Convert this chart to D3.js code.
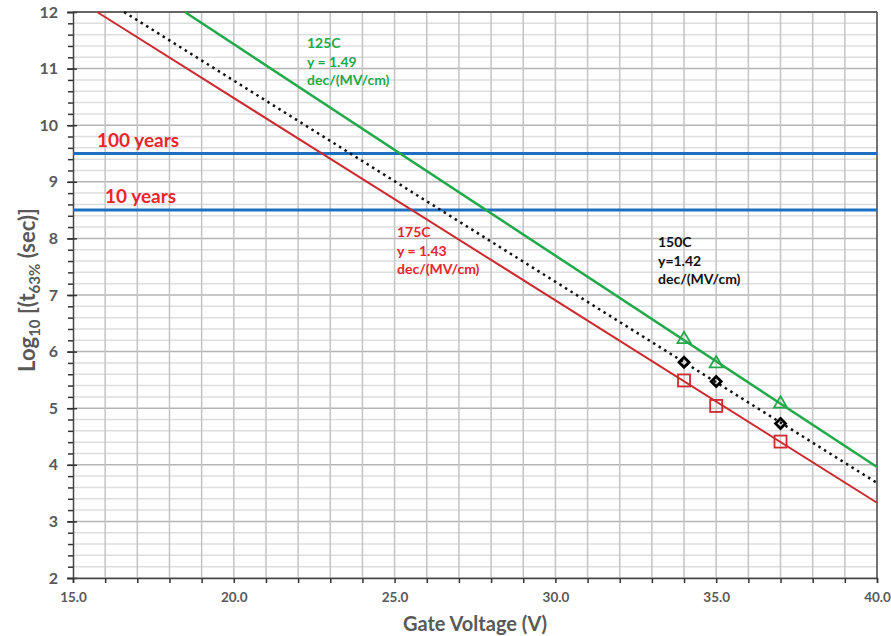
<!DOCTYPE html>
<html>
<head>
<meta charset="utf-8">
<script src="https://cdn.jsdelivr.net/npm/d3@7"></script>
<style>
  body { margin: 0; background: #fff; }
  svg text { font-family: Lato, "Liberation Sans", sans-serif; }
</style>
</head>
<body>
<div id="chart"></div>
<script>
var W = 891;
var H = 636;
var margin = { top: 12, right: 14, bottom: 58, left: 73 };
var plotW = W - margin.left - margin.right;
var plotH = H - margin.top - margin.bottom;

// ---- data ----
var xTickLabels = ['15.0', '20.0', '25.0', '30.0', '35.0', '40.0'];
var yTickLabels = [2, 3, 4, 5, 6, 7, 8, 9, 10, 11, 12];

var markerVoltage = [34, 35, 37];
var t125 = [6.2, 5.77, 5.06];
var t150 = [5.81, 5.47, 4.73];
var t175 = [5.49, 5.04, 4.41];

// fitted lines (visible end points, V / log10 t)
var fit125 = [[18.48, 12], [40, 3.96]];
var fit150 = [[16.59, 12], [40, 3.68]];
var fit175 = [[15.75, 12], [40, 3.33]];

var limitLevels = [9.5, 8.5];
var limitNames = ['100 years', '10 years'];

var green = '#22a94a';
var red = '#cc2a2f';
var blue = '#1f6fc0';
var axisGray = '#595959';

var svg = d3.select('#chart').append('svg').attr('width', W).attr('height', H);
var g = svg.append('g').attr('transform', 'translate(' + margin.left + ',' + margin.top + ')');

var xScale = d3.scaleLinear().domain([15, 40]).range([0, plotW]);
var yScale = d3.scaleLinear().domain([2, 12]).range([plotH, 0]);

/* ===== GRID ===== */
var yMinor = d3.range(2, 12.001, 0.2);
g.selectAll('line.hgrid')
  .data(yMinor)
  .enter().append('line')
  .attr('x1', 0).attr('x2', plotW)
  .attr('y1', function (d) { return yScale(d); })
  .attr('y2', function (d) { return yScale(d); })
  .attr('stroke', function (d) { return Math.abs(d - Math.round(d)) < 0.01 ? '#b4b4b4' : '#dedede'; })
  .attr('stroke-width', 1.5);

g.selectAll('line.vgrid')
  .data(d3.range(16, 40, 1))
  .enter().append('line')
  .attr('y1', 0).attr('y2', plotH)
  .attr('x1', function (d) { return xScale(d); })
  .attr('x2', function (d) { return xScale(d); })
  .attr('stroke', '#c4c4c4')
  .attr('stroke-width', 1.5);

/* ===== AXES ===== */
var yAxisMinor = d3.axisLeft(yScale).tickValues(yMinor).tickSize(5).tickFormat('');
g.append('g').call(yAxisMinor)
  .call(function (a) { a.select('.domain').remove(); })
  .selectAll('line').attr('stroke', '#333').attr('stroke-width', 1.5);

var yAxis = d3.axisLeft(yScale).tickValues(yTickLabels).tickSize(6).tickPadding(9);
var ya = g.append('g').call(yAxis);
ya.select('.domain').attr('stroke', '#444').attr('stroke-width', 1.5);
ya.selectAll('.tick line').attr('stroke', '#333').attr('stroke-width', 1.5).attr('x2', 4).attr('x1', -6);
ya.selectAll('text').attr('fill', axisGray).attr('font-size', 16).attr('font-weight', 'bold');

var xAxis = d3.axisBottom(xScale)
  .tickValues(d3.range(15, 40.001, 1))
  .tickSize(5)
  .tickPadding(9)
  .tickFormat(function (d) { return d % 5 === 0 ? xTickLabels[(d - 15) / 5] : ''; });
var xa = g.append('g').attr('transform', 'translate(0,' + plotH + ')').call(xAxis);
xa.select('.domain').attr('stroke', '#444').attr('stroke-width', 1.5);
xa.selectAll('.tick line').attr('stroke', '#333').attr('stroke-width', 1.5);
xa.selectAll('text').attr('fill', axisGray).attr('font-size', 13.5).attr('font-weight', 'bold');

// top and right frame
g.append('line').attr('x1', 0).attr('x2', plotW).attr('y1', 0).attr('y2', 0)
  .attr('stroke', '#444').attr('stroke-width', 1.5);
g.append('line').attr('x1', plotW).attr('x2', plotW).attr('y1', 0).attr('y2', plotH)
  .attr('stroke', '#444').attr('stroke-width', 1.5);

/* ===== LIMIT LINES ===== */
g.selectAll('line.limit')
  .data(limitLevels)
  .enter().append('line')
  .attr('x1', 0).attr('x2', plotW)
  .attr('y1', function (d) { return yScale(d); })
  .attr('y2', function (d) { return yScale(d); })
  .attr('stroke', blue)
  .attr('stroke-width', 3);

g.selectAll('text.limit')
  .data(limitLevels)
  .enter().append('text')
  .attr('x', function (d, i) { return i === 0 ? 24 : 32; })
  .attr('y', function (d) { return yScale(d) - 7; })
  .attr('fill', '#e8262b')
  .attr('font-size', 19)
  .attr('font-weight', 'bold')
  .text(function (d, i) { return limitNames[i]; });

/* ===== FIT LINES ===== */
var line = d3.line()
  .x(function (d) { return xScale(d[0]); })
  .y(function (d) { return yScale(d[1]); });

g.append('path').datum(fit175).attr('d', line)
  .attr('fill', 'none').attr('stroke', red).attr('stroke-width', 2);
g.append('path').datum(fit125).attr('d', line)
  .attr('fill', 'none').attr('stroke', green).attr('stroke-width', 2.5);
g.append('path').datum(fit150).attr('d', line)
  .attr('fill', 'none').attr('stroke', '#111').attr('stroke-width', 2.5)
  .attr('stroke-dasharray', '2.5,4');

/* ===== MARKERS ===== */
g.selectAll('path.tri')
  .data(markerVoltage)
  .enter().append('path')
  .attr('d', d3.symbol().type(d3.symbolTriangle).size(75))
  .attr('transform', function (d, i) { return 'translate(' + xScale(d) + ',' + (yScale(t125[i]) - 1) + ')'; })
  .attr('fill', 'none').attr('stroke', green).attr('stroke-width', 1.8);

g.selectAll('rect.sq')
  .data(markerVoltage)
  .enter().append('rect')
  .attr('x', function (d) { return xScale(d) - 6; })
  .attr('y', function (d, i) { return yScale(t175[i]) - 6; })
  .attr('width', 12).attr('height', 12)
  .attr('fill', 'none').attr('stroke', red).attr('stroke-width', 1.8);

g.selectAll('path.dia')
  .data(markerVoltage)
  .enter().append('path')
  .attr('d', d3.symbol().type(d3.symbolSquare).size(50))
  .attr('transform', function (d, i) { return 'translate(' + xScale(d) + ',' + yScale(t150[i]) + ') rotate(45)'; })
  .attr('fill', 'none').attr('stroke', '#000').attr('stroke-width', 2.8);

/* ===== ANNOTATIONS ===== */
function note(x, y, lines, color) {
  var t = g.append('text')
    .attr('x', x - margin.left)
    .attr('y', y - margin.top)
    .attr('fill', color)
    .attr('font-size', 14)
    .attr('font-weight', 'bold');
  lines.forEach(function (s, i) {
    t.append('tspan').attr('x', x - margin.left).attr('dy', i === 0 ? 0 : 18.5).text(s);
  });
}
note(307, 48, ['125C', 'y = 1.49', 'dec/(MV/cm)'], green);
note(397, 237, ['175C', 'y = 1.43', 'dec/(MV/cm)'], '#e8262b');
note(658, 247, ['150C', 'y=1.42', 'dec/(MV/cm)'], '#111');

/* ===== AXIS TITLES ===== */
svg.append('text')
  .attr('x', 475).attr('y', 631)
  .attr('text-anchor', 'middle')
  .attr('fill', axisGray)
  .attr('font-size', 20)
  .attr('font-weight', 'bold')
  .text('Gate Voltage (V)');

var yt = svg.append('text')
  .attr('transform', 'translate(35,290) rotate(-90)')
  .attr('text-anchor', 'middle')
  .attr('fill', axisGray)
  .attr('font-size', 22)
  .attr('font-weight', 'bold');
yt.append('tspan').text('Log');
yt.append('tspan').attr('font-size', 15).attr('dy', 5).text('10');
yt.append('tspan').attr('dy', -5).text(' [(t');
yt.append('tspan').attr('font-size', 15).attr('dy', 5).text('63%');
yt.append('tspan').attr('dy', -5).text(' (sec)]');
</script>
</body>
</html>
